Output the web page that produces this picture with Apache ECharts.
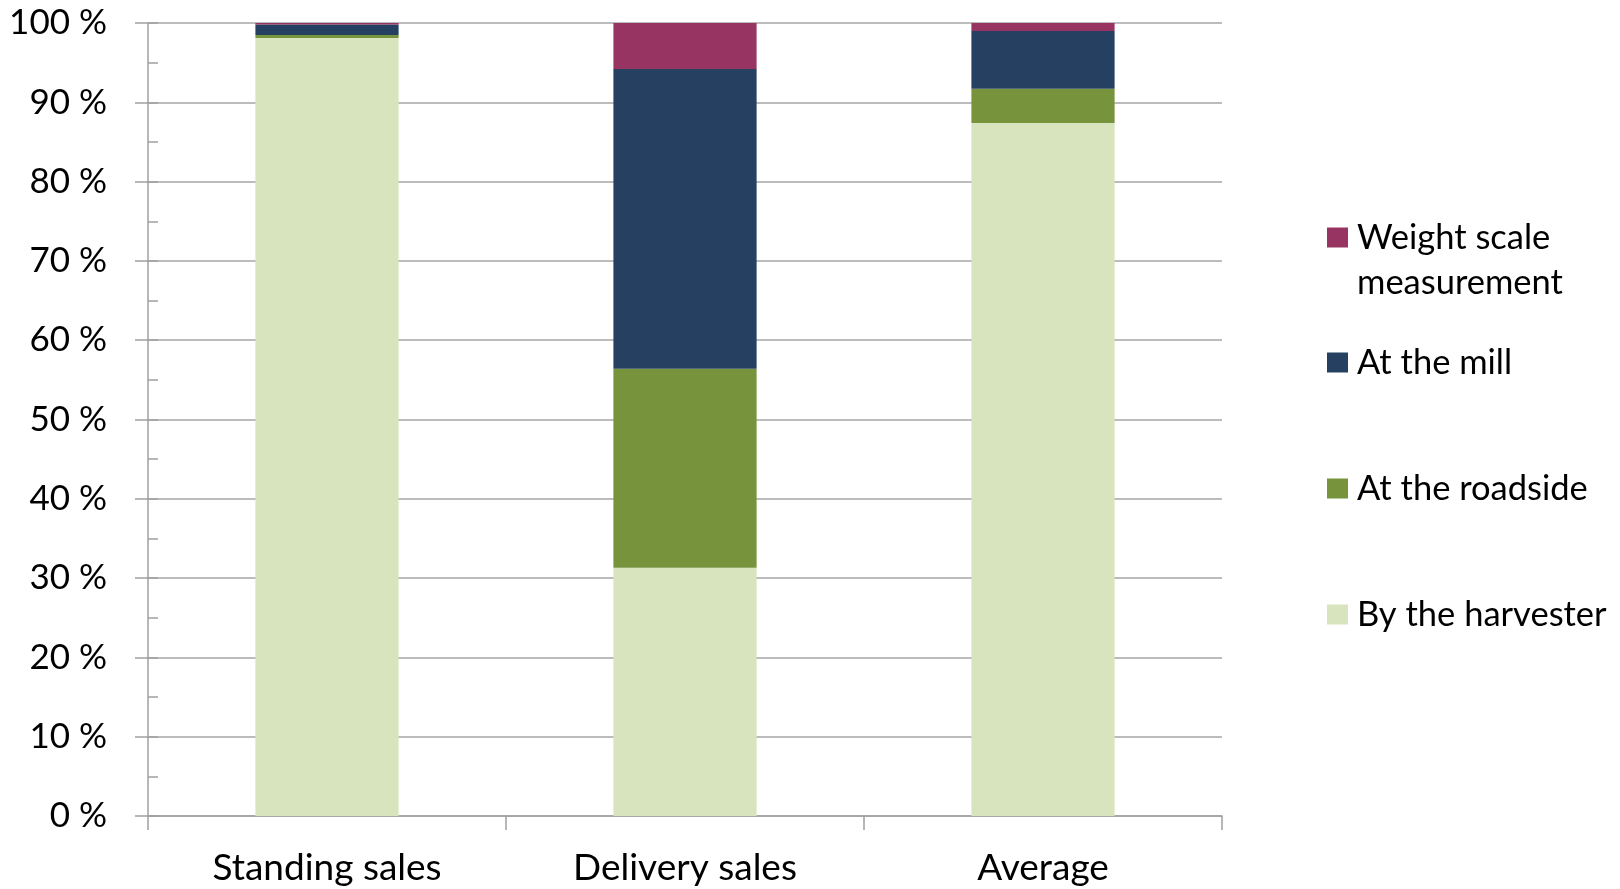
<!DOCTYPE html>
<html>
<head>
<meta charset="utf-8">
<script src="https://cdn.jsdelivr.net/npm/echarts@6/dist/echarts.min.js"></script>
<style>
html,body{margin:0;padding:0;background:#fff;}
#chart{width:1620px;height:889px;}
</style>
</head>
<body>
<div id="chart"></div>
<script>
var categories = ['Standing sales', 'Delivery sales', 'Average'];
var harvester = [98.1, 31.3, 87.4];
var roadside = [0.4, 25.1, 4.3];
var mill = [1.3, 37.8, 7.3];
var weight = [0.2, 5.8, 1.0];
var seriesNames = ['By the harvester', 'At the roadside', 'At the mill', 'Weight scale measurement'];
var colors = ['#D7E4BD', '#77933C', '#254061', '#983462'];

var FONT = 'Lato';
var FS = 35;

var chart = echarts.init(document.getElementById('chart'), null, {renderer: 'canvas'});

function legendFor(name, top, formatter) {
  return {
    show: true,
    data: [name],
    left: 1327,
    top: top,
    orient: 'vertical',
    itemWidth: 21,
    itemHeight: 20,
    itemGap: 0,
    padding: 0,
    selectedMode: false,
    icon: 'rect',
    formatter: formatter || '{name}',
    textStyle: {fontFamily: FONT, fontSize: 34.5, color: '#000', lineHeight: 45, padding: [0, 0, 0, 4]}
  };
}

var allData = [harvester, roadside, mill, weight];
var series = seriesNames.map(function (n, i) {
  return {
    name: n,
    type: 'bar',
    stack: 'total',
    barWidth: '40%',
    data: allData[i],
    itemStyle: {color: colors[i]},
    emphasis: {disabled: true}
  };
});

chart.setOption({
  animation: false,
  backgroundColor: '#fff',
  grid: {left: 148, right: 398, top: 23, bottom: 73, containLabel: false},
  legend: [
    legendFor('Weight scale measurement', 170, function () { return '\nWeight scale\nmeasurement'; }),
    legendFor('At the mill', 340),
    legendFor('At the roadside', 466),
    legendFor('By the harvester', 592)
  ],
  xAxis: {
    type: 'category',
    data: categories,
    axisLine: {lineStyle: {color: '#A0A0A0', width: 1.5}},
    axisTick: {show: true, length: 14, interval: 0, alignWithLabel: false, lineStyle: {color: '#A0A0A0', width: 1.5}},
    axisLabel: {fontFamily: FONT, fontSize: 37, color: '#000', margin: 34, interval: 0},
    splitLine: {show: false}
  },
  yAxis: [
    {
      type: 'value',
      min: 0,
      max: 100,
      interval: 10,
      axisLine: {show: true, lineStyle: {color: '#A0A0A0', width: 1.5}},
      axisTick: {show: true, length: 13, inside: false, lineStyle: {color: '#A0A0A0', width: 1.5}},
      axisLabel: {fontFamily: FONT, fontSize: FS, color: '#000', margin: 41, formatter: '{value} %'},
      splitLine: {show: true, lineStyle: {color: '#A6A6A6', width: 1.5}}
    },
    {
      type: 'value',
      position: 'left',
      offset: 0,
      min: 0,
      max: 100,
      interval: 5,
      axisLine: {show: false},
      axisTick: {show: true, length: 10, inside: true, lineStyle: {color: '#A0A0A0', width: 1.5}},
      axisLabel: {show: false},
      splitLine: {show: false}
    }
  ],
  series: series
});
</script>
</body>
</html>
